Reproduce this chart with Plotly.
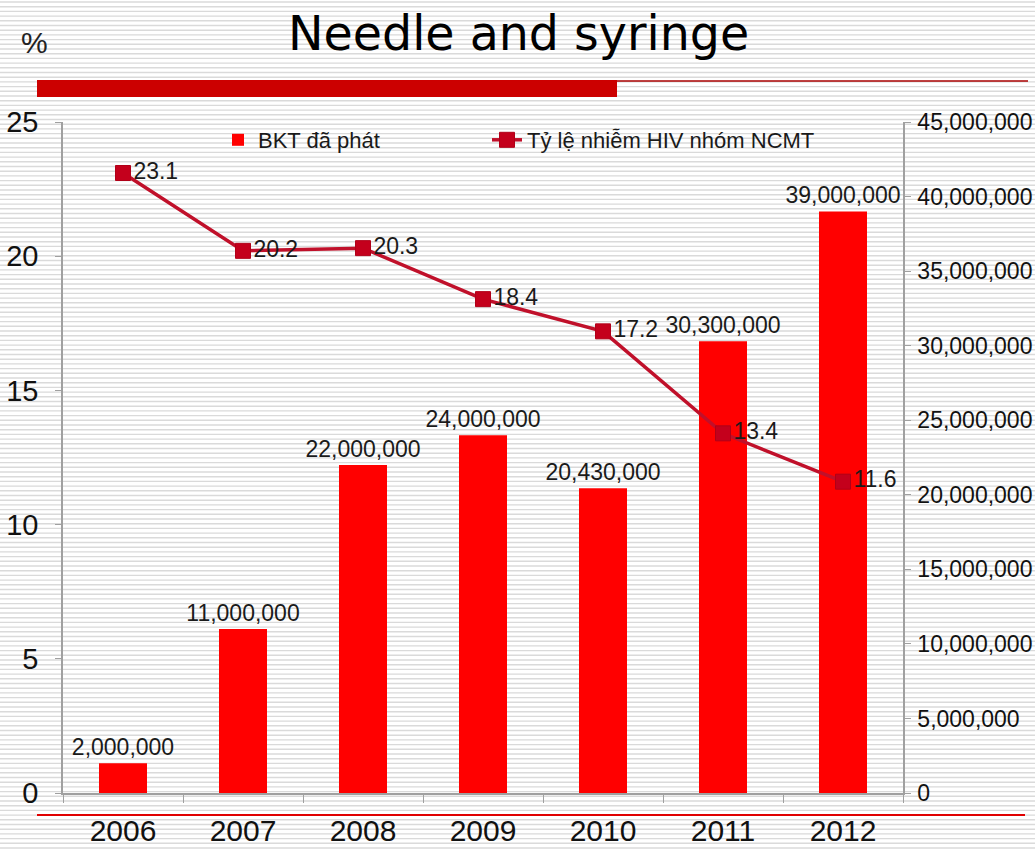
import plotly.graph_objects as go

# Data
years = ["2006", "2007", "2008", "2009", "2010", "2011", "2012"]
needles_distributed = [2000000, 11000000, 22000000, 24000000, 20430000, 30300000, 39000000]
hiv_rate_pwid = [23.1, 20.2, 20.3, 18.4, 17.2, 13.4, 11.6]
bar_name = "BKT đã phát"
line_name = "Tỷ lệ nhiễm HIV nhóm NCMT"
title_text = "Needle and syringe"

W, H = 1035, 851
L, R, T, B = 63, 903, 122, 793  # plot area in pixels

def px(x):
    return (x - L) / (R - L)

def py(y):
    return (B - y) / (B - T)

FONT = "Liberation Sans Narrow, Arial Narrow, Liberation Sans, Arial, sans-serif"

fig = go.Figure()

fig.add_trace(go.Bar(
    x=years, y=needles_distributed, name=bar_name,
    marker=dict(color="#ff0000", line=dict(width=0)),
    width=0.4,
    text=[f"{v:,}" for v in needles_distributed],
    textposition="outside", cliponaxis=False, constraintext="none",
    textfont=dict(family=FONT, size=23, color="#1a1a1a"),
    yaxis="y", legend="legend",
))

fig.add_trace(go.Scatter(
    x=years, y=hiv_rate_pwid, name=line_name,
    mode="lines+markers+text",
    line=dict(color="#c0102a", width=3.5),
    marker=dict(symbol="square", size=15, color="#c4001c",
                line=dict(color="#b00018", width=1)),
    text=[f"{v}" for v in hiv_rate_pwid],
    textposition="middle right", cliponaxis=False,
    textfont=dict(family=FONT, size=23, color="#1a1a1a"),
    yaxis="y2", legend="legend2",
))

# Striped background, header bars and footer rule
shapes = []
y = 2.0
while y < H:
    shapes.append(dict(type="line", xref="paper", yref="paper",
                       x0=px(0), x1=px(W), y0=py(y), y1=py(y),
                       line=dict(color="#dadada", width=1.4), layer="below"))
    y += 4.7
shapes.append(dict(type="rect", xref="paper", yref="paper",
                   x0=px(37), x1=px(617), y0=py(97), y1=py(80),
                   fillcolor="#cc0000", line=dict(width=0), layer="above"))
shapes.append(dict(type="line", xref="paper", yref="paper",
                   x0=px(617), x1=px(1028), y0=py(81), y1=py(81),
                   line=dict(color="#a80000", width=1.5), layer="above"))
shapes.append(dict(type="line", xref="paper", yref="paper",
                   x0=px(37), x1=px(1025), y0=py(815), y1=py(815),
                   line=dict(color="#e00000", width=2), layer="above"))

annotations = [
    dict(text=title_text, xref="paper", yref="paper", x=px(518), y=py(33),
         xanchor="center", yanchor="middle", showarrow=False,
         font=dict(family="DejaVu Sans, Verdana, sans-serif", size=47.5, color="#000000")),
    dict(text="%", xref="paper", yref="paper", x=px(34), y=py(42),
         xanchor="center", yanchor="middle", showarrow=False,
         font=dict(family=FONT, size=30, color="#222222")),
]

legend_font = dict(family=FONT, size=22, color="#1a1a1a")

fig.update_layout(
    width=W, height=H,
    margin=dict(l=L, r=W - R, t=T, b=H - B, pad=0, autoexpand=False),
    paper_bgcolor="#ffffff", plot_bgcolor="rgba(0,0,0,0)",
    showlegend=True,
    legend=dict(orientation="h", x=px(218), y=py(140), xanchor="left", yanchor="middle",
                font=legend_font, bgcolor="rgba(0,0,0,0)"),
    legend2=dict(orientation="h", x=px(487), y=py(140), xanchor="left", yanchor="middle",
                 font=legend_font, bgcolor="rgba(0,0,0,0)"),
    xaxis=dict(type="category", showgrid=False, showline=True, linecolor="#a0a0a0",
               linewidth=1.5, ticks="outside", tickson="boundaries", ticklen=8,
               tickcolor="#a0a0a0", ticklabelstandoff=10, automargin=False,
               tickfont=dict(family=FONT, size=30, color="#111111")),
    yaxis=dict(side="right", range=[0, 45000000], dtick=5000000, tickformat=",d",
               showgrid=False, zeroline=False, showline=True, linecolor="#a0a0a0",
               linewidth=1.5, ticks="outside", ticklen=6, tickcolor="#a0a0a0",
               ticklabelstandoff=2, automargin=False,
               tickfont=dict(family=FONT, size=23, color="#111111")),
    yaxis2=dict(side="left", overlaying="y", range=[0, 25], dtick=5,
                showgrid=False, zeroline=False, showline=True, linecolor="#a0a0a0",
                linewidth=1.5, ticks="outside", ticklen=6, tickcolor="#a0a0a0",
                ticklabelstandoff=11, automargin=False,
                tickfont=dict(family=FONT, size=29, color="#111111")),
    shapes=shapes,
    annotations=annotations,
)

fig.write_html("out.html")
